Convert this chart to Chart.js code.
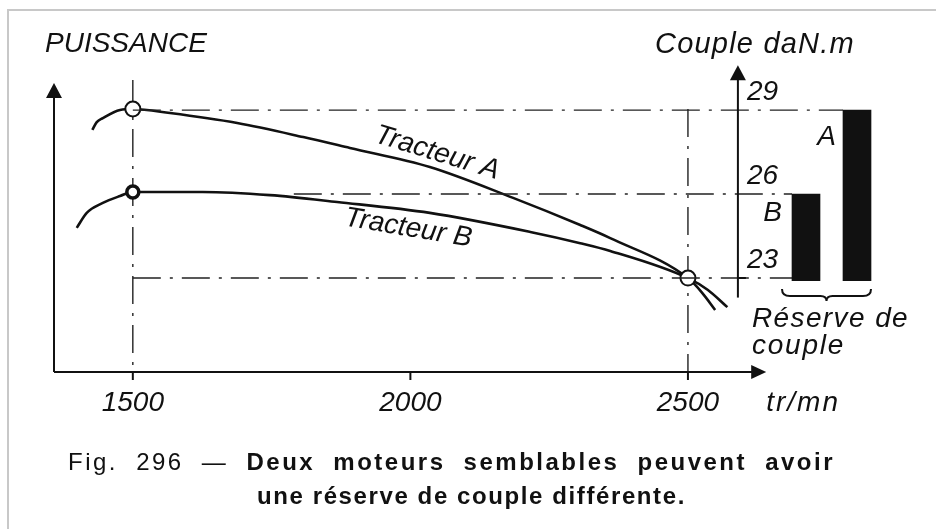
<!DOCTYPE html>
<html>
<head>
<meta charset="utf-8">
<script src="https://cdn.jsdelivr.net/npm/chart.js@4"></script>
<style>
  html, body { margin: 0; padding: 0; background: #fff; }
  #wrap { position: relative; width: 936px; height: 529px; overflow: hidden; background: #fff; }
  #wrap canvas { position: absolute; left: 0; top: 0; }
  .frameTop { position: absolute; left: 7px; top: 9px; width: 940px; height: 2px; background: #c8c8c8; }
  .frameLeft { position: absolute; left: 7px; top: 9px; width: 2px; height: 530px; background: #c8c8c8; }
  .cap { position: absolute; font-family: "Liberation Sans", Arial, Helvetica, sans-serif; font-size: 24px; line-height: 24px; color: #111; white-space: nowrap; }
  #cap1 { left: 68px; top: 450px; width: 767px; text-align: justify; text-align-last: justify; white-space: normal; letter-spacing: 2.5px; }
  #cap2 { left: 257px; top: 484px; letter-spacing: 1.6px; }
  .cap b { font-weight: bold; }
</style>
</head>
<body>
<div id="wrap">
  <div class="frameTop"></div>
  <div class="frameLeft"></div>
  <canvas id="c1" width="936" height="529"></canvas>
  <canvas id="c2" width="936" height="529"></canvas>
  <div class="cap" id="cap1">Fig. 296 — <b>Deux moteurs semblables peuvent avoir</b></div>
  <div class="cap" id="cap2"><b>une réserve de couple différente.</b></div>
</div>
<script>
// ---------- DATA ----------
const rpmA   = [1427, 1435, 1446, 1477, 1500, 1567, 1688, 1807, 1891, 2035, 2185, 2306, 2360, 2500, 2526, 2549];
const powerA = [77.6, 80.1, 81.4, 84.0, 84.3, 83.0, 79.8, 75.3, 71.8, 65.7, 55.8, 47.1, 42.9, 30.1, 25.3, 19.9];
const rpmB   = [1399, 1417, 1446, 1477, 1500, 1626, 1747, 1868, 2035, 2216, 2306, 2360, 2500, 2536, 2571];
const powerB = [46.2, 51.0, 54.2, 56.4, 57.7, 57.7, 56.7, 54.5, 51.0, 44.9, 41.3, 38.8, 30.1, 26.3, 20.8];
const rpmTicks = [1500, 2000, 2500];
const rpmTickLabels = ['1500', '2000', '2500'];
const coupleCategories = ['B', 'A'];
const coupleValues = [26, 29];
const coupleTicks = [23, 26, 29];
const coupleTickLabels = ['23', '26', '29'];

// ---------- LAYOUT / STYLE ----------
const FONT = '"Liberation Sans", Arial, Helvetica, sans-serif';
const INK = '#111';
const X_RANGE = { min: 1358, max: 2882 };
const P_RANGE = { min: 0, max: 100 };
const C_RANGE = { min: 19.64, max: 30.79 };
const X_AXIS_END = 2641;      // rpm where the x arrow tip sits
const P_AXIS_END = 92.6;      // power value of the left arrow tip
const COUPLE_AXIS_RPM = 2590; // where the couple axis stands
const C_AXIS = { from: 22.3, to: 30.6 };
const MARKER_RPM = [1500, 2500];
const GUIDE_START = { 29: 1500, 26: 1790, 23: 1500 };

function txt(ctx, s, x, y, o = {}) {
  ctx.save();
  ctx.font = `${o.style || 'italic'} ${o.weight || 'normal'} ${o.size || 28}px ${FONT}`;
  ctx.fillStyle = INK;
  ctx.textAlign = o.align || 'left';
  ctx.textBaseline = 'alphabetic';
  if ('letterSpacing' in ctx) ctx.letterSpacing = (o.ls || 0) + 'px';
  ctx.translate(x, y);
  if (o.rot) ctx.rotate(o.rot * Math.PI / 180);
  ctx.fillText(s, 0, 0);
  ctx.restore();
}
function dash(ctx, x1, y1, x2, y2) {
  ctx.save();
  ctx.strokeStyle = '#222';
  ctx.lineWidth = 1.4;
  ctx.setLineDash([28, 9, 3, 9]);
  ctx.beginPath(); ctx.moveTo(x1, y1); ctx.lineTo(x2, y2); ctx.stroke();
  ctx.restore();
}
function solid(ctx, x1, y1, x2, y2, w) {
  ctx.save();
  ctx.strokeStyle = INK; ctx.lineWidth = w || 2;
  ctx.beginPath(); ctx.moveTo(x1, y1); ctx.lineTo(x2, y2); ctx.stroke();
  ctx.restore();
}
function arrow(ctx, x, y, dir) { // dir: 'up' | 'right'
  ctx.save();
  ctx.fillStyle = INK;
  ctx.beginPath();
  if (dir === 'up') { ctx.moveTo(x, y); ctx.lineTo(x - 8, y + 15); ctx.lineTo(x + 8, y + 15); }
  else { ctx.moveTo(x, y); ctx.lineTo(x - 15, y - 7); ctx.lineTo(x - 15, y + 7); }
  ctx.closePath(); ctx.fill();
  ctx.restore();
}

// ---------- CHART 1 : power curves ----------
const powerPlugin = {
  id: 'powerDecor',
  beforeDatasetsDraw(chart) {
    const { ctx, scales: { x, y } } = chart;
    const y0 = y.getPixelForValue(0);
    dash(ctx, x.getPixelForValue(1500), y.getPixelForValue(P_AXIS_END + 1), x.getPixelForValue(1500), y0);
    dash(ctx, x.getPixelForValue(2500), y.getPixelForValue(Math.max(...powerA)), x.getPixelForValue(2500), y0);
  },
  afterDraw(chart) {
    const { ctx, chartArea, scales: { x, y } } = chart;
    const y0 = y.getPixelForValue(0);
    const xl = x.getPixelForValue(X_RANGE.min);
    const xe = x.getPixelForValue(X_AXIS_END);
    const yt = y.getPixelForValue(P_AXIS_END);
    solid(ctx, xl, y0, xe - 10, y0, 2);
    arrow(ctx, xe, y0, 'right');
    solid(ctx, xl, y0, xl, yt + 10, 2);
    arrow(ctx, xl, yt, 'up');
    rpmTicks.forEach((v, i) => {
      const px = x.getPixelForValue(v);
      solid(ctx, px, y0, px, y0 + 8, 2);
      txt(ctx, rpmTickLabels[i], px, y0 + 39, { align: 'center', size: 28 });
    });
    txt(ctx, 'tr/mn', xe, y0 + 39, { size: 28, ls: 2 });
    txt(ctx, 'PUISSANCE', chartArea.left - 9, 52, { size: 28, ls: 0 });
    txt(ctx, 'Tracteur A', x.getPixelForValue(2044), y.getPixelForValue(67.8), { align: 'center', size: 28, rot: 17 });
    txt(ctx, 'Tracteur B', x.getPixelForValue(1994), y.getPixelForValue(43.6), { align: 'center', size: 28, rot: 9.5 });
  }
};

function markerRadius(list, r) {
  return (c) => (c.raw && MARKER_RPM.includes(c.raw.x) && list.includes(c.raw.x)) ? r : 0;
}

const chart1 = new Chart(document.getElementById('c1'), {
  type: 'line',
  data: {
    datasets: [
      {
        label: 'Tracteur A',
        data: rpmA.map((v, i) => ({ x: v, y: powerA[i] })),
        borderColor: INK, borderWidth: 2.6,
        cubicInterpolationMode: 'monotone',
        pointRadius: markerRadius([1500, 2500], 7.5),
        pointBackgroundColor: '#fff', pointBorderColor: INK, pointBorderWidth: 2,
        clip: false
      },
      {
        label: 'Tracteur B',
        data: rpmB.map((v, i) => ({ x: v, y: powerB[i] })),
        borderColor: INK, borderWidth: 2.6,
        cubicInterpolationMode: 'monotone',
        pointRadius: markerRadius([1500], 6),
        pointBackgroundColor: '#fff', pointBorderColor: INK, pointBorderWidth: 3.5,
        clip: false
      }
    ]
  },
  options: {
    responsive: false, animation: false, events: [],
    layout: { padding: { left: 54, right: 36, top: 60, bottom: 157 } },
    plugins: { legend: { display: false }, tooltip: { enabled: false }, title: { display: false } },
    scales: {
      x: { type: 'linear', display: false, min: X_RANGE.min, max: X_RANGE.max },
      y: { type: 'linear', display: false, min: P_RANGE.min, max: P_RANGE.max }
    }
  },
  plugins: [powerPlugin]
});

// ---------- CHART 2 : couple bars ----------
const couplePlugin = {
  id: 'coupleDecor',
  beforeDatasetsDraw(chart) {
    const { ctx, scales: { y } } = chart;
    const bars = chart.getDatasetMeta(0).data;
    const xs = chart1.scales.x;
    coupleTicks.forEach((v) => {
      let idx = coupleValues.indexOf(v);
      if (idx < 0) idx = 0;
      const bar = bars[idx];
      const endX = bar.x - bar.width / 2;
      const py = y.getPixelForValue(v);
      dash(ctx, xs.getPixelForValue(GUIDE_START[v]), py, endX, py);
    });
  },
  afterDraw(chart) {
    const { ctx, scales: { y } } = chart;
    const bars = chart.getDatasetMeta(0).data;
    const ax = chart1.scales.x.getPixelForValue(COUPLE_AXIS_RPM);
    const yb = y.getPixelForValue(C_AXIS.from);
    const yt = y.getPixelForValue(C_AXIS.to);
    solid(ctx, ax, yb, ax, yt + 10, 2);
    arrow(ctx, ax, yt, 'up');
    coupleTicks.forEach((v, i) => {
      const py = y.getPixelForValue(v);
      txt(ctx, coupleTickLabels[i], ax + 9, py - 10, { size: 28 });
    });
    const p23 = y.getPixelForValue(coupleTicks[0]);
    solid(ctx, ax, p23, ax + 8, p23, 2);
    txt(ctx, 'Couple daN.m', ax + 17, 53, { align: 'center', size: 29, ls: 1.2 });
    // category labels beside the bars
    coupleCategories.forEach((c, i) => {
      const b = bars[i];
      const off = c === 'A' ? { dx: 7, dy: 35 } : { dx: 10, dy: 27 };
      txt(ctx, c, b.x - b.width / 2 - off.dx, y.getPixelForValue(coupleValues[i]) + off.dy, { align: 'right', size: 28 });
    });
    // brace under the bars
    const xL = bars[0].x - bars[0].width / 2 - 10;
    const xR = bars[1].x + bars[1].width / 2;
    const mid = (xL + xR) / 2;
    const top = p23 + 11, by = p23 + 18;
    ctx.save();
    ctx.strokeStyle = INK; ctx.lineWidth = 2;
    ctx.beginPath();
    ctx.moveTo(xL, top);
    ctx.quadraticCurveTo(xL, by, xL + 8, by);
    ctx.lineTo(mid - 6, by);
    ctx.quadraticCurveTo(mid, by, mid, by + 5);
    ctx.quadraticCurveTo(mid, by, mid + 6, by);
    ctx.lineTo(xR - 8, by);
    ctx.quadraticCurveTo(xR, by, xR, top);
    ctx.stroke();
    ctx.restore();
    txt(ctx, 'Réserve de', ax + 14, p23 + 49, { size: 28, ls: 1.4 });
    txt(ctx, 'couple', ax + 14, p23 + 76, { size: 28, ls: 1.8 });
  }
};

const chart2 = new Chart(document.getElementById('c2'), {
  type: 'bar',
  data: {
    labels: coupleCategories,
    datasets: [{
      label: 'Couple daN.m',
      data: coupleValues,
      base: 22.9,
      backgroundColor: INK,
      borderWidth: 0,
      barThickness: 28
    }]
  },
  options: {
    responsive: false, animation: false, events: [],
    layout: { padding: { left: 780.5, right: 53.5, top: 60, bottom: 157 } },
    plugins: { legend: { display: false }, tooltip: { enabled: false } },
    scales: {
      x: { type: 'category', display: false, offset: true },
      y: { type: 'linear', display: false, min: C_RANGE.min, max: C_RANGE.max }
    }
  },
  plugins: [couplePlugin]
});
</script>
</body>
</html>
